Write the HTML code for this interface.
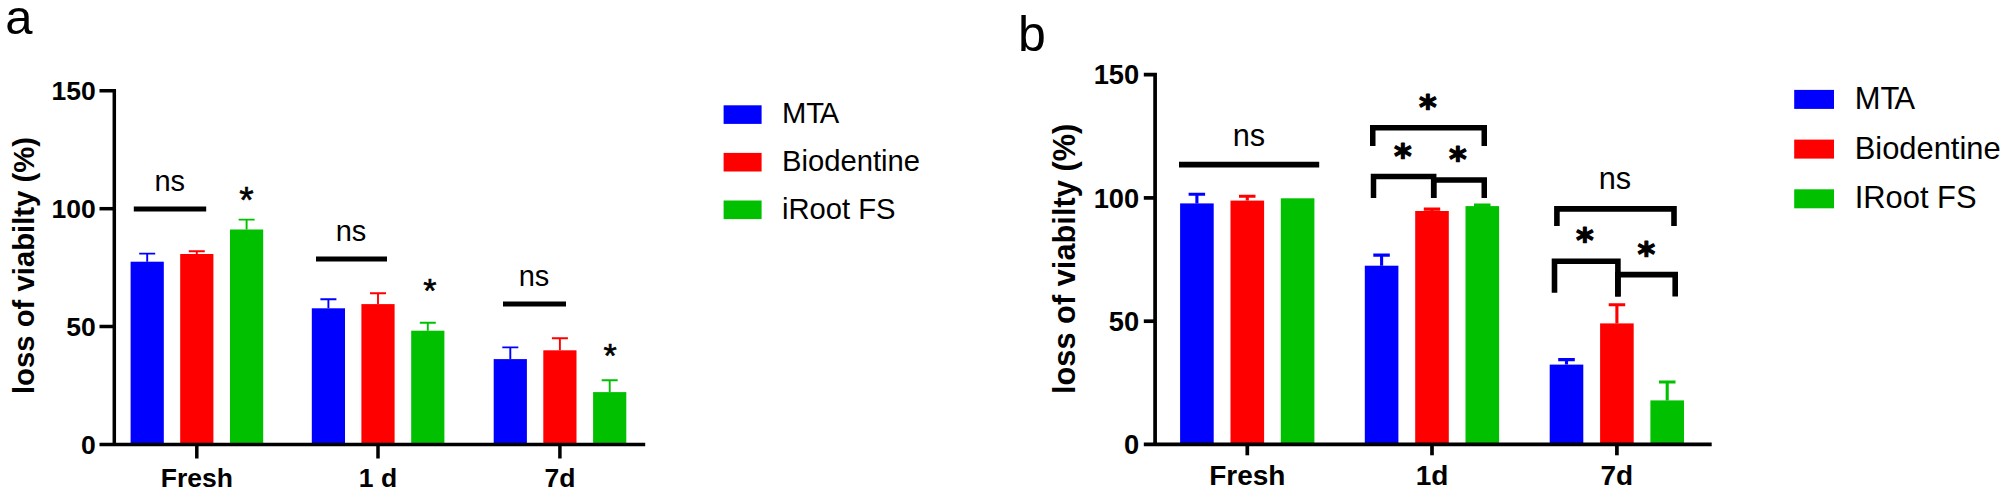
<!DOCTYPE html>
<html><head><meta charset="utf-8"><title>Figure</title>
<style>html,body{margin:0;padding:0;background:#fff}svg{display:block}text{font-family:"Liberation Sans",sans-serif;fill:#000}</style></head><body>
<svg width="2007" height="494" viewBox="0 0 2007 494">
<rect width="2007" height="494" fill="#fff"/>
<rect x="130.6" y="261.7" width="33.2" height="182.7" fill="#0000ff"/>
<path d="M147.2 261.7V253.6M139.2 253.6H155.2" stroke="#0000ff" stroke-width="1.9" fill="none"/>
<rect x="180.2" y="254.0" width="33.2" height="190.4" fill="#ff0000"/>
<path d="M196.8 254.0V251.2M188.8 251.2H204.8" stroke="#ff0000" stroke-width="1.9" fill="none"/>
<rect x="230.0" y="229.5" width="33.2" height="214.9" fill="#00c000"/>
<path d="M246.6 229.5V219.6M238.6 219.6H254.6" stroke="#00c000" stroke-width="1.9" fill="none"/>
<rect x="311.8" y="308.3" width="33.2" height="136.1" fill="#0000ff"/>
<path d="M328.4 308.3V299.2M320.4 299.2H336.4" stroke="#0000ff" stroke-width="1.9" fill="none"/>
<rect x="361.4" y="304.1" width="33.2" height="140.3" fill="#ff0000"/>
<path d="M378.0 304.1V293.2M370.0 293.2H386.0" stroke="#ff0000" stroke-width="1.9" fill="none"/>
<rect x="411.2" y="330.7" width="33.2" height="113.7" fill="#00c000"/>
<path d="M427.8 330.7V322.8M419.8 322.8H435.8" stroke="#00c000" stroke-width="1.9" fill="none"/>
<rect x="493.7" y="359.1" width="33.2" height="85.3" fill="#0000ff"/>
<path d="M510.3 359.1V347.4M502.3 347.4H518.3" stroke="#0000ff" stroke-width="1.9" fill="none"/>
<rect x="543.3" y="350.3" width="33.2" height="94.1" fill="#ff0000"/>
<path d="M559.9 350.3V338.2M551.9 338.2H567.9" stroke="#ff0000" stroke-width="1.9" fill="none"/>
<rect x="593.1" y="392.1" width="33.2" height="52.3" fill="#00c000"/>
<path d="M609.7 392.1V380.3M601.7 380.3H617.7" stroke="#00c000" stroke-width="1.9" fill="none"/>
<path d="M99.5 90.8H114.3V444.4" stroke="#000" stroke-width="3.5" fill="none" stroke-linejoin="miter"/>
<path d="M99.5 444.4H645.2" stroke="#000" stroke-width="3.5" fill="none"/>
<path d="M99.5 326.5H114.3" stroke="#000" stroke-width="3.5"/>
<path d="M99.5 208.7H114.3" stroke="#000" stroke-width="3.5"/>
<text x="95.7" y="453.7" font-size="26.5" font-weight="bold" text-anchor="end">0</text>
<text x="95.7" y="335.8" font-size="26.5" font-weight="bold" text-anchor="end">50</text>
<text x="95.7" y="218.0" font-size="26.5" font-weight="bold" text-anchor="end">100</text>
<text x="95.7" y="100.1" font-size="26.5" font-weight="bold" text-anchor="end">150</text>
<path d="M196.8 444.4V458.5" stroke="#000" stroke-width="3.5"/>
<text x="196.8" y="487" font-size="26.5" font-weight="bold" text-anchor="middle">Fresh</text>
<path d="M378.0 444.4V458.5" stroke="#000" stroke-width="3.5"/>
<text x="378.0" y="487" font-size="26.5" font-weight="bold" text-anchor="middle">1 d</text>
<path d="M559.9 444.4V458.5" stroke="#000" stroke-width="3.5"/>
<text x="559.9" y="487" font-size="26.5" font-weight="bold" text-anchor="middle">7d</text>
<text transform="translate(33.5 265.5) rotate(-90)" font-size="29.3" font-weight="bold" text-anchor="middle">loss of viabilty (%)</text>
<text x="5.3" y="33.5" font-size="49" text-anchor="start">a</text>
<path d="M133.8 208.9H206.2" stroke="#000" stroke-width="5"/>
<text x="169.7" y="190.5" font-size="29" text-anchor="middle">ns</text>
<path d="M316 259H387" stroke="#000" stroke-width="5"/>
<text x="351" y="241" font-size="29" text-anchor="middle">ns</text>
<path d="M503 304H566" stroke="#000" stroke-width="5"/>
<text x="534" y="286" font-size="29" text-anchor="middle">ns</text>
<text x="246.4" y="213.4" font-size="37" text-anchor="middle" stroke="#000" stroke-width="0.6">*</text>
<text x="429.9" y="302.4" font-size="34" text-anchor="middle" stroke="#000" stroke-width="0.6">*</text>
<text x="610.1" y="367.1" font-size="34" text-anchor="middle" stroke="#000" stroke-width="0.6">*</text>
<rect x="723.6" y="105.3" width="38" height="18.6" fill="#0000ff"/>
<text x="782" y="123.3" font-size="29.2" text-anchor="start">MT<tspan dx="-2.3">A</tspan></text>
<rect x="723.6" y="152.9" width="38" height="18.6" fill="#ff0000"/>
<text x="782" y="170.9" font-size="29.2" text-anchor="start">Biodentine</text>
<rect x="723.6" y="200.5" width="38" height="18.6" fill="#00c000"/>
<text x="782" y="218.5" font-size="29.2" text-anchor="start">iRoot FS</text>
<rect x="1180.1" y="203.4" width="33.6" height="241.0" fill="#0000ff"/>
<path d="M1196.9 203.4V194.3M1188.6 194.3H1205.1" stroke="#0000ff" stroke-width="3.1" fill="none"/>
<rect x="1230.5" y="200.6" width="33.6" height="243.8" fill="#ff0000"/>
<path d="M1247.3 200.6V196.2M1239.0 196.2H1255.5" stroke="#ff0000" stroke-width="3.1" fill="none"/>
<rect x="1280.8" y="198.3" width="33.6" height="246.1" fill="#00c000"/>
<rect x="1364.8" y="265.7" width="33.6" height="178.7" fill="#0000ff"/>
<path d="M1381.6 265.7V255.1M1373.3 255.1H1389.8" stroke="#0000ff" stroke-width="3.1" fill="none"/>
<rect x="1415.2" y="211.0" width="33.6" height="233.4" fill="#ff0000"/>
<path d="M1432.0 211.0V209.1M1423.8 209.1H1440.2" stroke="#ff0000" stroke-width="3.1" fill="none"/>
<rect x="1465.5" y="206.1" width="33.6" height="238.3" fill="#00c000"/>
<path d="M1482.3 206.1V205.1M1474.0 205.1H1490.5" stroke="#00c000" stroke-width="3.1" fill="none"/>
<rect x="1549.7" y="364.6" width="33.6" height="79.8" fill="#0000ff"/>
<path d="M1566.5 364.6V359.6M1558.2 359.6H1574.8" stroke="#0000ff" stroke-width="3.1" fill="none"/>
<rect x="1600.1" y="323.4" width="33.6" height="121.0" fill="#ff0000"/>
<path d="M1616.9 323.4V304.8M1608.7 304.8H1625.2" stroke="#ff0000" stroke-width="3.1" fill="none"/>
<rect x="1650.4" y="400.4" width="33.6" height="44.0" fill="#00c000"/>
<path d="M1667.2 400.4V382.0M1659.0 382.0H1675.5" stroke="#00c000" stroke-width="3.1" fill="none"/>
<path d="M1143.8 74.7H1155.1V444.4" stroke="#000" stroke-width="3.7" fill="none" stroke-linejoin="miter"/>
<path d="M1143.8 444.4H1711.7" stroke="#000" stroke-width="3.7" fill="none"/>
<path d="M1143.8 321.2H1155.1" stroke="#000" stroke-width="3.7"/>
<path d="M1143.8 197.9H1155.1" stroke="#000" stroke-width="3.7"/>
<text x="1139.2" y="454.0" font-size="27.3" font-weight="bold" text-anchor="end">0</text>
<text x="1139.2" y="330.7" font-size="27.3" font-weight="bold" text-anchor="end">50</text>
<text x="1139.2" y="207.5" font-size="27.3" font-weight="bold" text-anchor="end">100</text>
<text x="1139.2" y="84.3" font-size="27.3" font-weight="bold" text-anchor="end">150</text>
<path d="M1247.3 444.4V455.3" stroke="#000" stroke-width="3.7"/>
<text x="1247.3" y="484.6" font-size="28" font-weight="bold" text-anchor="middle">Fresh</text>
<path d="M1432.0 444.4V455.3" stroke="#000" stroke-width="3.7"/>
<text x="1432.0" y="484.6" font-size="28" font-weight="bold" text-anchor="middle">1d</text>
<path d="M1616.9 444.4V455.3" stroke="#000" stroke-width="3.7"/>
<text x="1616.9" y="484.6" font-size="28" font-weight="bold" text-anchor="middle">7d</text>
<text transform="translate(1075 258.9) rotate(-90)" font-size="30.8" font-weight="bold" text-anchor="middle">loss of viabilty (%)</text>
<text x="1018" y="51" font-size="50" text-anchor="start">b</text>
<path d="M1179 164.6H1319.2" stroke="#000" stroke-width="5.6"/>
<text x="1248.9" y="145.7" font-size="30.7" text-anchor="middle">ns</text>
<path d="M1372.75 146.1V127.85H1484.25V146.1" stroke="#000" stroke-width="5.5" fill="none" stroke-linejoin="miter"/>
<path d="M1373.5 198V176.5H1433.7V198" stroke="#000" stroke-width="5.5" fill="none" stroke-linejoin="miter"/>
<path d="M1433.7 198V180H1484.25V198" stroke="#000" stroke-width="5.5" fill="none" stroke-linejoin="miter"/>
<path d="M1556.9 226.1V208.9H1674V226.1" stroke="#000" stroke-width="5.6" fill="none" stroke-linejoin="miter"/>
<path d="M1554.5 292.7V261.2H1617.9V296.5" stroke="#000" stroke-width="5.6" fill="none" stroke-linejoin="miter"/>
<path d="M1617.9 296.5V274.6H1675.2V296.5" stroke="#000" stroke-width="5.6" fill="none" stroke-linejoin="miter"/>
<text x="1615" y="189.4" font-size="30.7" text-anchor="middle">ns</text>
<text x="1427.8" y="119.4" font-size="33.8" font-weight="bold" text-anchor="middle" stroke="#000" stroke-width="1.2" stroke-linejoin="round" style="font-family:'DejaVu Sans',sans-serif">*</text>
<text x="1402.9" y="167.6" font-size="33.8" font-weight="bold" text-anchor="middle" stroke="#000" stroke-width="1.2" stroke-linejoin="round" style="font-family:'DejaVu Sans',sans-serif">*</text>
<text x="1457.9" y="170.6" font-size="33.8" font-weight="bold" text-anchor="middle" stroke="#000" stroke-width="1.2" stroke-linejoin="round" style="font-family:'DejaVu Sans',sans-serif">*</text>
<text x="1584.9" y="252.4" font-size="33.8" font-weight="bold" text-anchor="middle" stroke="#000" stroke-width="1.2" stroke-linejoin="round" style="font-family:'DejaVu Sans',sans-serif">*</text>
<text x="1646.3" y="265.8" font-size="33.8" font-weight="bold" text-anchor="middle" stroke="#000" stroke-width="1.2" stroke-linejoin="round" style="font-family:'DejaVu Sans',sans-serif">*</text>
<rect x="1794.2" y="89.9" width="39.8" height="19" fill="#0000ff"/>
<text x="1854.7" y="108.9" font-size="30.9" text-anchor="start">MT<tspan dx="-2.4">A</tspan></text>
<rect x="1794.2" y="139.6" width="39.8" height="19" fill="#ff0000"/>
<text x="1854.7" y="158.6" font-size="30.9" text-anchor="start">Biodentine</text>
<rect x="1794.2" y="189.3" width="39.8" height="19" fill="#00c000"/>
<text x="1854.7" y="208.3" font-size="30.9" text-anchor="start">IRoot FS</text>
</svg></body></html>
